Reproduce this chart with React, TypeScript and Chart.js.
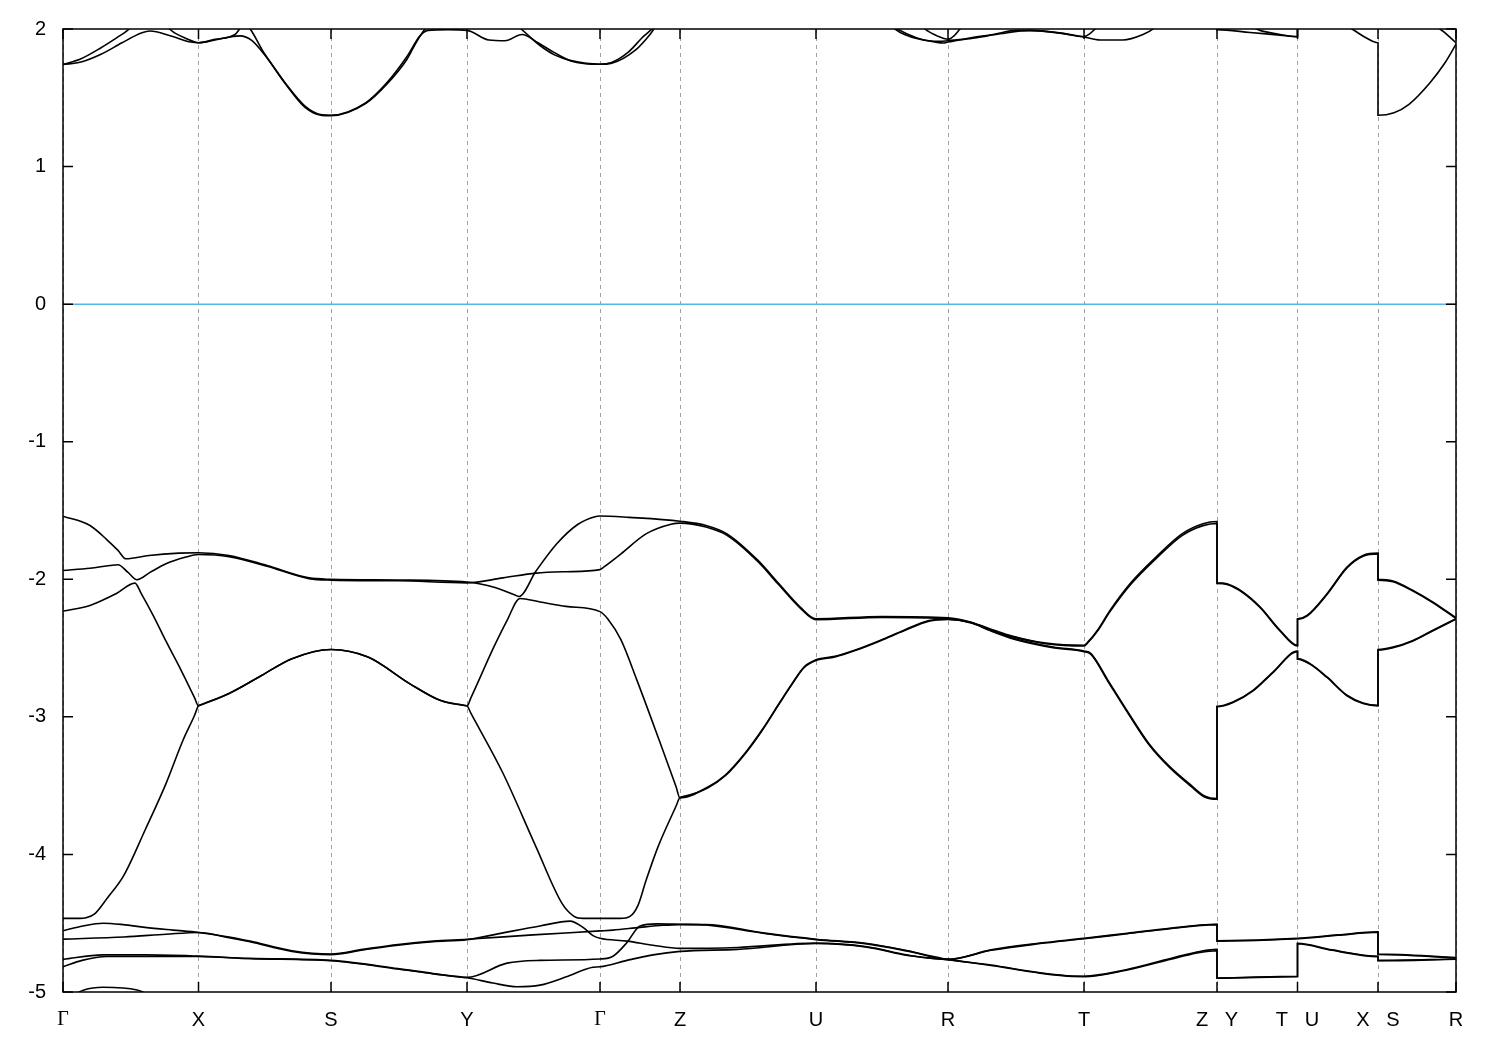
import { useEffect, useRef } from 'react';
import { Chart, registerables } from 'chart.js';

Chart.register(...registerables);

// k-path (arbitrary path-length units) and labels of the high-symmetry points
const K_POS = [0, 135.5, 268, 404, 537, 617, 753, 885, 1021, 1154, 1234.5, 1315, 1393];
const K_LABELS = ['Γ', 'X', 'S', 'Y', 'Γ', 'Z', 'U', 'R', 'T', 'Z   Y', 'T   U', 'X   S', 'R'];
const E_TICKS = [2, 1, 0, -1, -2, -3, -4, -5];
const E_MIN = -5;
const E_MAX = 2;
const FERMI_LEVEL = 0;

// ---- conduction bands (eV) ----
const cond1 = [[0,1.742],[18,1.784],[38,1.864],[59,1.961],[77,2.04],[97,2.04],[112,1.97],[122,1.935],[135.5,1.9],[152,1.92],[177,1.95],[189,1.915],[205,1.78],[222,1.61],[242,1.44],[259,1.376],[268,1.373],[303,1.465],[324,1.61],[344,1.8],[357,1.95],[365,1.99],[385,1.995],[404,1.99],[426,1.92],[442,1.915],[459,1.96],[475,1.9],[491,1.83],[508,1.768],[537,1.744],[548,1.755],[565,1.83],[581,1.95],[589,2.0],[602,2.1],[620,2.2],[800,2.2],[817,2.1],[830,2.02],[854,1.935],[874,1.903],[880,1.898],[885,1.905],[907,1.935],[930,1.96],[954,1.99],[984,1.983],[1021,1.942],[1037,1.92],[1060,1.92],[1080,1.96],[1090,2.0],[1102,2.1],[1154,2.15],[1154,1.995],[1187,1.975],[1217,1.955],[1234.5,1.944],[1234.5,2.1],[1277,2.05],[1289,2.0],[1302,1.94],[1310,1.91],[1315,1.9],[1315,1.373],[1331,1.392],[1346,1.453],[1367,1.61],[1382,1.755],[1393,1.889]];
const cond2 = [[0,1.742],[18,1.76],[38,1.816],[59,1.9],[79,1.973],[87,1.985],[108,1.949],[128,1.905],[135.5,1.9],[152,1.925],[172,1.96],[182,2.04],[189,1.98],[199,1.85],[209,1.74],[222,1.605],[242,1.43],[259,1.372],[268,1.37],[303,1.46],[324,1.6],[344,1.78],[353,1.9],[362,2.0],[377,2.1],[440,2.1],[458,2.0],[477,1.88],[492,1.81],[508,1.77],[537,1.744],[548,1.75],[573,1.85],[587,1.96],[593,2.02],[607,2.1],[620,2.2],[800,2.2],[820,2.1],[832,2.0],[857,1.925],[877,1.91],[885,1.915],[907,1.93],[937,1.965],[967,1.99],[997,1.97],[1021,1.945],[1032,2.0],[1042,2.1],[1154,2.2],[1154,2.1],[1187,2.02],[1197,1.99],[1217,1.96],[1234.5,1.944],[1234.5,2.15],[1290,2.1],[1315,2.05],[1360,2.05],[1377,2.0],[1393,1.9]];
const cond3 = [[850,2.1],[862,2.0],[874,1.95],[885,1.925],[891,1.95],[897,2.0],[910,2.1]];

// ---- upper valence bands (eV) ----
const val1 = [[0,-1.541],[27,-1.609],[44,-1.713],[55,-1.79],[63,-1.851],[86,-1.827],[116,-1.81],[135.5,-1.807],[166,-1.827],[204,-1.9],[246,-1.99],[268,-2.0],[335,-2.005],[404,-2.02],[432,-2.06],[452,-2.115],[456,-2.125],[473,-1.94],[494,-1.74],[515,-1.6],[532,-1.545],[537,-1.54],[566,-1.55],[617,-1.578],[643,-1.609],[664,-1.67],[695,-1.863],[716,-2.033],[737,-2.2],[753,-2.287],[819,-2.27],[885,-2.28],[907,-2.31],[931,-2.37],[948,-2.41],[983,-2.464],[1021,-2.48],[1025,-2.455],[1034.5,-2.37],[1047,-2.226],[1067,-2.033],[1093,-1.839],[1119,-1.67],[1140,-1.597],[1154,-1.58],[1154,-2.025],[1164,-2.033],[1180,-2.093],[1197,-2.2],[1217,-2.37],[1234.5,-2.48],[1234.5,-2.287],[1244,-2.263],[1264,-2.105],[1284,-1.912],[1300,-1.827],[1315,-1.81],[1315,-2.001],[1330,-2.013],[1350,-2.081],[1370,-2.166],[1393,-2.28]];
const val2 = [[0,-1.936],[27,-1.92],[47,-1.9],[55,-1.894],[65,-1.95],[74,-2.003],[87,-1.95],[103,-1.887],[122,-1.84],[135.5,-1.82],[166,-1.835],[204,-1.905],[246,-1.995],[268,-2.006],[335,-2.011],[404,-2.026],[440,-1.99],[473,-1.955],[503,-1.945],[537,-1.93],[541,-1.91],[558,-1.815],[583,-1.67],[608,-1.6],[617,-1.592],[643,-1.62],[664,-1.68],[695,-1.872],[716,-2.042],[737,-2.208],[753,-2.294],[819,-2.277],[885,-2.286],[907,-2.315],[931,-2.375],[948,-2.415],[983,-2.468],[1021,-2.485],[1025,-2.46],[1034.5,-2.376],[1047,-2.235],[1067,-2.043],[1093,-1.85],[1119,-1.682],[1140,-1.61],[1154,-1.594],[1154,-2.03],[1164,-2.038],[1180,-2.098],[1197,-2.205],[1217,-2.375],[1234.5,-2.485],[1234.5,-2.292],[1244,-2.268],[1264,-2.11],[1284,-1.917],[1300,-1.832],[1315,-1.815],[1315,-2.006],[1330,-2.018],[1350,-2.086],[1370,-2.171],[1393,-2.285]];
const val3 = [[0,-2.231],[27,-2.19],[53,-2.105],[72,-2.028],[78,-2.1],[90,-2.26],[103,-2.45],[118,-2.66],[131.5,-2.86],[135.5,-2.92],[139.5,-2.908],[166,-2.83],[196,-2.71],[229,-2.577],[268,-2.51],[305,-2.565],[347,-2.76],[377,-2.88],[400,-2.915],[404,-2.92],[408,-2.86],[431,-2.49],[444,-2.3],[457,-2.14],[477,-2.165],[503,-2.197],[537,-2.235],[545,-2.29],[558,-2.44],[574,-2.735],[595,-3.146],[613,-3.506],[617,-3.59],[645,-3.51],[662,-3.425],[683,-3.255],[700,-3.085],[717,-2.892],[729,-2.759],[741,-2.638],[753,-2.585],[772,-2.56],[793,-2.512],[817,-2.444],[841,-2.37],[866,-2.3],[885,-2.29],[907,-2.31],[927,-2.37],[952,-2.433],[990,-2.493],[1021,-2.522],[1028,-2.54],[1045,-2.735],[1066,-2.977],[1086,-3.195],[1107,-3.364],[1128,-3.497],[1141.5,-3.575],[1154,-3.594],[1154,-2.923],[1170,-2.892],[1190,-2.807],[1210,-2.674],[1234.5,-2.522],[1234.5,-2.577],[1247,-2.613],[1264,-2.71],[1284,-2.843],[1300,-2.899],[1315,-2.916],[1315,-2.51],[1330,-2.493],[1350,-2.444],[1370,-2.37],[1393,-2.287]];
const val4 = [[0,-4.465],[17,-4.465],[23,-4.46],[32,-4.43],[44,-4.32],[61,-4.15],[82,-3.824],[103,-3.485],[120,-3.17],[131.5,-2.99],[135.5,-2.92],[139.5,-2.908],[166,-2.83],[196,-2.71],[229,-2.577],[268,-2.51],[305,-2.565],[347,-2.76],[377,-2.88],[400,-2.915],[404,-2.92],[408,-2.975],[440,-3.41],[473,-3.945],[499,-4.356],[511,-4.45],[520,-4.465],[537,-4.465],[557,-4.465],[567,-4.45],[575,-4.37],[583,-4.19],[595,-3.945],[613,-3.65],[617,-3.586],[621,-3.578],[645,-3.515],[662,-3.43],[683,-3.26],[700,-3.09],[717,-2.897],[729,-2.764],[741,-2.643],[753,-2.59],[772,-2.565],[793,-2.516],[817,-2.448],[841,-2.374],[866,-2.304],[885,-2.292],[907,-2.313],[927,-2.373],[952,-2.437],[990,-2.497],[1021,-2.526],[1028,-2.546],[1045,-2.743],[1066,-2.985],[1086,-3.203],[1107,-3.372],[1128,-3.505],[1141.5,-3.582],[1154,-3.598],[1154,-2.927],[1170,-2.896],[1190,-2.811],[1210,-2.678],[1234.5,-2.526],[1234.5,-2.581],[1247,-2.617],[1264,-2.714],[1284,-2.847],[1300,-2.903],[1315,-2.92],[1315,-2.514],[1330,-2.497],[1350,-2.448],[1370,-2.374],[1393,-2.29]];

// ---- lower valence bands (eV) ----
const low1 = [[0,-4.555],[20,-4.52],[40,-4.5],[60,-4.51],[82,-4.53],[110,-4.55],[135.5,-4.567],[166,-4.6],[187,-4.63],[229,-4.7],[268,-4.724],[300,-4.69],[335,-4.655],[370,-4.63],[404,-4.617],[470,-4.585],[537,-4.556],[550,-4.55],[577,-4.53],[600,-4.515],[617,-4.51],[643,-4.51],[700,-4.57],[753,-4.616],[804,-4.647],[845,-4.7],[885,-4.763],[928,-4.694],[977,-4.645],[1021,-4.61],[1062,-4.575],[1100,-4.543],[1154,-4.507],[1154,-4.627],[1234.5,-4.61],[1275,-4.585],[1315,-4.563],[1315,-4.724],[1393,-4.75]];
const low2 = [[0,-4.616],[61,-4.6],[103,-4.58],[135.5,-4.567],[166,-4.605],[187,-4.635],[229,-4.705],[268,-4.728],[300,-4.695],[335,-4.66],[370,-4.635],[404,-4.62],[440,-4.57],[477,-4.52],[507,-4.485],[520,-4.53],[530,-4.59],[537,-4.61],[564,-4.63],[590,-4.66],[617,-4.683],[674.5,-4.676],[753,-4.645],[804,-4.671],[845,-4.732],[885,-4.763],[928,-4.697],[977,-4.648],[1021,-4.613],[1062,-4.578],[1100,-4.546],[1154,-4.51],[1154,-4.63],[1234.5,-4.613],[1275,-4.588],[1315,-4.566],[1315,-4.727],[1393,-4.752]];
const low3 = [[0,-4.763],[40,-4.73],[82,-4.73],[135.5,-4.739],[187,-4.755],[268,-4.77],[335,-4.83],[370,-4.865],[404,-4.894],[444,-4.79],[477,-4.77],[537,-4.76],[550,-4.74],[564,-4.64],[577,-4.52],[594,-4.505],[617,-4.508],[643,-4.513],[700,-4.573],[753,-4.619],[804,-4.65],[845,-4.703],[885,-4.763],[928,-4.804],[977,-4.86],[1010,-4.884],[1021,-4.885],[1062,-4.84],[1114,-4.744],[1137,-4.705],[1154,-4.69],[1154,-4.898],[1234.5,-4.885],[1234.5,-4.646],[1269,-4.694],[1315,-4.74],[1315,-4.77],[1393,-4.76]];
const low4 = [[0,-4.817],[19,-4.77],[44,-4.742],[135.5,-4.742],[187,-4.758],[268,-4.773],[335,-4.833],[370,-4.868],[404,-4.897],[430,-4.935],[454,-4.962],[477,-4.95],[505,-4.885],[530,-4.82],[537,-4.817],[564,-4.77],[590,-4.73],[617,-4.705],[674.5,-4.69],[753,-4.648],[804,-4.674],[845,-4.735],[885,-4.765],[928,-4.807],[977,-4.863],[1010,-4.887],[1021,-4.888],[1062,-4.843],[1114,-4.75],[1137,-4.712],[1154,-4.7],[1154,-4.9],[1234.5,-4.888],[1234.5,-4.649],[1269,-4.697],[1315,-4.743],[1315,-4.773],[1393,-4.762]];
const low5 = [[0,-5.06],[21,-4.985],[40,-4.966],[74,-4.985],[97,-5.06],[135.5,-5.15]];

const BANDS = [cond1, cond2, cond3, val1, val2, val3, val4, low1, low2, low3, low4, low5];

const framePlugin = {
  id: 'gnuplotFrame',
  afterDraw(chart: any) {
    const { ctx, chartArea: a, scales } = chart;
    const tickLen = 10;
    ctx.save();
    ctx.strokeStyle = '#000';
    ctx.lineWidth = 1.5;
    ctx.setLineDash([]);
    ctx.beginPath();
    for (const t of scales.y.ticks) {
      const y = scales.y.getPixelForValue(t.value);
      ctx.moveTo(a.left, y); ctx.lineTo(a.left + tickLen, y);
      ctx.moveTo(a.right, y); ctx.lineTo(a.right - tickLen, y);
    }
    for (const t of scales.x.ticks) {
      const x = scales.x.getPixelForValue(t.value);
      ctx.moveTo(x, a.bottom); ctx.lineTo(x, a.bottom - tickLen);
      ctx.moveTo(x, a.top); ctx.lineTo(x, a.top + tickLen);
    }
    ctx.stroke();
    ctx.lineWidth = 1.5;
    ctx.strokeRect(a.left, a.top, a.right - a.left, a.bottom - a.top);
    ctx.restore();
  },
};

export default function App() {
  const ref = useRef<HTMLCanvasElement>(null);
  useEffect(() => {
    const canvas = ref.current!;
    const kMax = K_POS[K_POS.length - 1];
    const datasets: any[] = [
      {
        data: [{ x: K_POS[0], y: FERMI_LEVEL }, { x: kMax, y: FERMI_LEVEL }],
        borderColor: '#56b4e9',
        borderWidth: 1.5,
      },
      ...BANDS.map((b) => ({
        data: b.map(([x, y]) => ({ x, y })),
        borderColor: '#000',
        borderWidth: 1.6,
      })),
    ];
    const chart = new Chart(canvas, {
      type: 'line',
      data: { datasets },
      options: {
        animation: false,
        responsive: false,
        devicePixelRatio: 1,
        events: [],
        layout: { padding: { top: 28, right: 44, left: 0, bottom: 0 } },
        elements: {
          point: { radius: 0, hoverRadius: 0 },
          line: { cubicInterpolationMode: 'monotone', capBezierPoints: false, fill: false },
        },
        plugins: { legend: { display: false }, tooltip: { enabled: false } },
        scales: {
          x: {
            type: 'linear',
            min: 0,
            max: kMax,
            afterBuildTicks: (s: any) => { s.ticks = K_POS.map((v) => ({ value: v })); },
            afterFit: (s: any) => { s.height = 58; },
            grid: { color: '#a0a0a0', lineWidth: 1, drawTicks: false },
            border: { display: false, dash: [4, 4] },
            ticks: {
              autoSkip: false,
              maxRotation: 0,
              padding: 16,
              color: '#000',
              font: (c: any) => ({
                family: c.index === 0 || c.index === 4 ? 'Liberation Serif' : 'Liberation Sans',
                size: 20,
              }),
              callback: (_v: any, i: number) => K_LABELS[i],
            },
          },
          y: {
            type: 'linear',
            min: E_MIN,
            max: E_MAX,
            afterBuildTicks: (s: any) => { s.ticks = E_TICKS.map((v) => ({ value: v })); },
            afterFit: (s: any) => { s.width = 63; },
            grid: { display: false, drawTicks: false },
            border: { display: false },
            ticks: {
              padding: 17,
              color: '#000',
              font: { family: 'Liberation Sans', size: 20 },
              callback: (v: any) => String(v),
            },
          },
        },
      } as any,
      plugins: [framePlugin],
    });
    return () => chart.destroy();
  }, []);
  return (
    <div style={{ position: 'fixed', left: 0, top: 0, width: 1500, height: 1050, background: '#fff' }}>
      <canvas ref={ref} width={1500} height={1050} style={{ width: 1500, height: 1050, display: 'block' }} />
    </div>
  );
}
